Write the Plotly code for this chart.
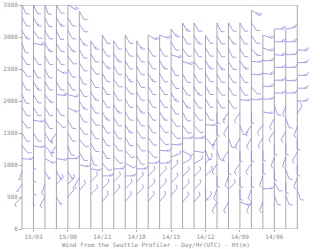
import math
import plotly.graph_objects as go

# ---- data ----
hour_labels = ["15/04", "15/03", "15/02", "15/01", "15/00", "14/23", "14/22", "14/21",
               "14/20", "14/19", "14/18", "14/17", "14/16", "14/15", "14/14", "14/13",
               "14/12", "14/11", "14/10", "14/09", "14/08", "14/07", "14/06", "14/05", "14/04"]
tick_hours = ["15/03", "15/00", "14/21", "14/18", "14/15", "14/12", "14/09", "14/06"]
height_ticks = [0, 500, 1000, 1500, 2000, 2500, 3000, 3500]

# top gate height (m) of each profile
gate_top = [3500, 3500, 3500, 3500, 3500, 3400, 2940, 3030, 2940, 3030, 2940, 3030, 3030,
            3125, 3220, 3220, 3030, 3220, 3220, 3220, 3420, 3030, 3125, 3125, 2800]
gate_step = 200  # m between plotted gates

# wind direction (deg, from) per profile, top gate first
directions = [
    [155, 150, 150, 160, 150, 145, 150, 155, 150, 145, 150, 140, 95, 200, 215, 225],
    [155, 150, 145, 100, 150, 155, 150, 150, 150, 100, 150, 100, 180, 180, 180, 180],
    [160, 155, 150, 150, 150, 155, 150, 145, 150, 150, 150, 140, 120, 150, 200, 210],
    [150, 150, 155, 150, 150, 120, 150, 95, 150, 140, 215, 215, 100, 150, 45, 150],
    [120, 150, 150, 150, 145, 150, 150, 105, 120, 150, 150, 160, 90, 150, 45, 40],
    [150, 145, 150, 150, 150, 155, 150, 150, 150, 145, 140, 150, 100, 210, 40],
    [150, 150, 145, 150, 150, 150, 145, 150, 150, 160, 100, 45, 45],
    [150, 150, 145, 150, 150, 150, 150, 150, 150, 150, 140, 90, 45, 40],
    [150, 150, 150, 145, 150, 150, 150, 150, 145, 140, 90, 45, 40],
    [150, 150, 150, 150, 145, 150, 150, 150, 150, 140, 120, 90, 45, 40],
    [150, 150, 150, 150, 150, 150, 150, 145, 145, 150, 90, 45, 45],
    [120, 150, 150, 150, 150, 150, 150, 150, 145, 140, 90, 45, 45, 40],
    [110, 150, 150, 150, 150, 150, 150, 145, 140, 95, 90, 45, 45, 40],
    [145, 150, 110, 150, 150, 150, 150, 145, 140, 95, 70, 45, 45, 40],
    [150, 150, 145, 110, 150, 150, 150, 150, 145, 90, 120, 60, 45, 45, 40],
    [150, 150, 150, 145, 150, 150, 150, 145, 140, 90, 100, 60, 45, 45, 40],
    [150, 150, 150, 150, 150, 150, 150, 95, 140, 160, 45, 45, 180, 40],
    [155, 150, 150, 150, 150, 150, 150, 180, 180, 210, 160, 210, 180, 200, 210],
    [150, 150, 155, 150, 150, 150, 150, 215, 210, 160, 215, 180, 200, 45, 210],
    [150, 150, 150, 145, 150, 150, 95, 215, 160, 210, 180, 215, 180, 180, 110],
    [125, 145, 145, 140, 95, 95, 140, 90, 180, 215, 210, 180, 215, 180, 200, 210],
    [110, 110, 90, 95, 90, 90, 100, 215, 210, 180, 180, 200, 90, 200],
    [90, 90, 95, 90, 90, 90, 160, 210, 215, 180, 200, 180, 150, 160],
    [80, 90, 90, 90, 95, 90, 200, 160, 210, 180, 200, 160, 180, 160],
    [95, 90, 90, 90, 90, 30, 200, 180, 210, 180, 200, 160],
]

# wind speed (kt) per profile, top gate first
speeds = [
    [10, 10, 15, 10, 10, 10, 10, 10, 10, 10, 10, 10, 15, 5, 5, 10],
    [10, 15, 10, 20, 10, 10, 15, 10, 10, 15, 10, 15, 10, 10, 10, 5],
    [10, 10, 10, 15, 10, 10, 10, 15, 10, 10, 10, 10, 15, 5, 10, 10],
    [10, 15, 10, 10, 10, 15, 10, 20, 10, 10, 10, 10, 15, 5, 10, 5],
    [20, 10, 10, 15, 10, 10, 10, 20, 15, 10, 10, 10, 15, 5, 10, 10],
    [10, 10, 15, 10, 10, 10, 10, 15, 10, 10, 10, 10, 15, 10, 10],
    [15, 10, 10, 10, 15, 10, 10, 10, 10, 10, 15, 10, 10],
    [10, 10, 15, 10, 10, 10, 15, 10, 10, 10, 10, 15, 10, 10],
    [10, 15, 10, 10, 10, 15, 10, 10, 10, 10, 15, 10, 10],
    [10, 10, 10, 15, 10, 10, 10, 15, 10, 10, 10, 15, 10, 10],
    [15, 10, 10, 10, 10, 15, 10, 10, 10, 10, 15, 10, 10],
    [20, 10, 10, 15, 10, 10, 10, 10, 10, 10, 15, 10, 10, 10],
    [20, 10, 15, 10, 10, 10, 15, 10, 10, 15, 15, 10, 10, 10],
    [15, 10, 20, 10, 10, 15, 10, 10, 10, 15, 10, 10, 10, 10],
    [15, 10, 10, 20, 10, 10, 15, 10, 10, 15, 10, 10, 10, 10, 10],
    [10, 15, 10, 10, 10, 15, 10, 10, 10, 15, 10, 10, 10, 10, 10],
    [10, 10, 15, 10, 10, 10, 10, 15, 10, 10, 10, 10, 10, 10],
    [10, 10, 10, 15, 10, 10, 10, 10, 10, 15, 10, 10, 10, 10, 10],
    [10, 15, 10, 10, 10, 10, 10, 15, 10, 10, 10, 10, 10, 10, 10],
    [10, 10, 10, 15, 10, 10, 15, 10, 10, 15, 10, 10, 10, 10, 15],
    [25, 10, 10, 15, 15, 15, 10, 15, 10, 15, 10, 10, 10, 10, 10, 10],
    [20, 20, 15, 20, 15, 15, 15, 10, 10, 10, 10, 10, 15, 10],
    [20, 20, 20, 15, 15, 15, 10, 10, 10, 10, 10, 10, 10, 10],
    [15, 20, 15, 15, 15, 15, 10, 10, 10, 10, 10, 10, 10, 10],
    [20, 15, 15, 15, 15, 10, 10, 10, 10, 10, 10, 10],
]

# ---- geometry ----
W, H = 320, 249
X0, X1 = -1.918, 25.981          # x range so profile 0 sits at 22px, profile 24 at 297px
PX_X = W / (X1 - X0)            # px per profile
PX_Y = 224 / 3500.0             # px per metre
SHAFT = 9.5
FULL, HALF, GAP = 3.5, 2.0, 2.0
ANG = math.radians(60)

bx, by = [], []


def seg(xa, ya, dxp, dyp, dxq, dyq):
    bx.extend([xa + dxp / PX_X, xa + dxq / PX_X, None])
    by.extend([ya + dyp / PX_Y, ya + dyq / PX_Y, None])


for k in range(len(directions)):
    for i, (d, s) in enumerate(zip(directions[k], speeds[k])):
        h = gate_top[k] - gate_step * i
        th = math.radians(d)
        ux, uy = math.sin(th), math.cos(th)
        px, py = -uy, ux
        fx = math.cos(ANG) * ux + math.sin(ANG) * px
        fy = math.cos(ANG) * uy + math.sin(ANG) * py
        seg(k, h, 0, 0, SHAFT * ux, SHAFT * uy)
        pos = SHAFT
        nfull = s // 10
        half = (s % 10) >= 5
        if nfull == 0 and half:
            pos = SHAFT - GAP
        for _ in range(nfull):
            seg(k, h, pos * ux, pos * uy, pos * ux + FULL * fx, pos * uy + FULL * fy)
            pos -= GAP
        if half:
            seg(k, h, pos * ux, pos * uy, pos * ux + HALF * fx, pos * uy + HALF * fy)

vx, vy = [], []
for k in range(1, len(gate_top) - 1):
    vx.extend([k, k, None])
    vy.extend([0, gate_top[k], None])

GREY = "#a8a8a8"
BLUE = "#8686ff"
FONT = dict(family="DejaVu Sans Mono, Liberation Mono, monospace", size=6, color="#8a8a8a")

fig = go.Figure()
fig.add_trace(go.Scatter(x=vx, y=vy, mode="lines", line=dict(color=GREY, width=1),
                         hoverinfo="skip", showlegend=False))
fig.add_trace(go.Scatter(x=bx, y=by, mode="lines", line=dict(color=BLUE, width=0.8),
                         hoverinfo="skip", showlegend=False))

fig.add_shape(type="rect", xref="x", yref="y", x0=0, x1=len(gate_top) - 1, y0=0, y1=3500,
              line=dict(color=GREY, width=1), layer="below")

tick_pos = [hour_labels.index(t) for t in tick_hours]

fig.update_layout(
    width=W, height=H,
    margin=dict(l=0, r=0, t=5, b=20),
    paper_bgcolor="white", plot_bgcolor="white",
    showlegend=False,
    font=FONT,
    xaxis=dict(range=[X0, X1], domain=[0, 1], showgrid=False, zeroline=False, showline=False,
               tickmode="array", tickvals=tick_pos, ticktext=tick_hours,
               ticks="outside", ticklen=2, tickcolor=GREY, tickfont=FONT),
    yaxis=dict(range=[0, 3500], domain=[0, 1], anchor="free", position=22 / W,
               showgrid=False, zeroline=False, showline=False,
               tickmode="array", tickvals=height_ticks, ticktext=[str(v) for v in height_ticks],
               ticks="outside", ticklen=3, tickcolor=GREY, tickfont=FONT),
    annotations=[dict(text="Wind from the Seattle Profiler - Day/Hr(UTC) - Ht(m)",
                      xref="paper", yref="paper", x=156 / W, y=-16 / 224.0,
                      xanchor="center", yanchor="middle", showarrow=False, font=FONT)],
)

fig.write_html("out.html")
